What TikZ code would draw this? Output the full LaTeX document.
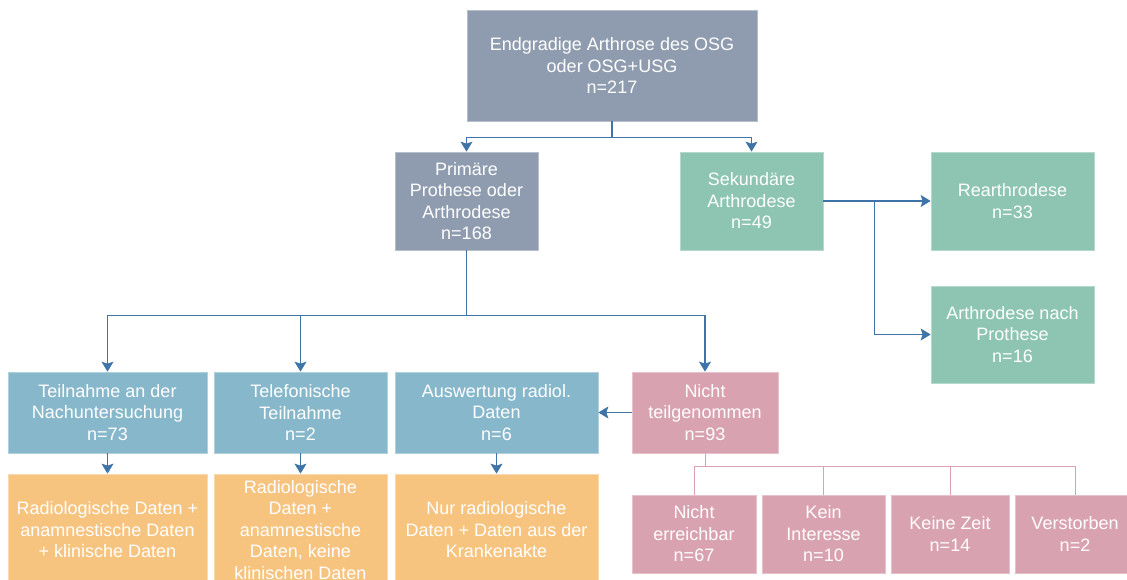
\documentclass[tikz,border=0pt]{standalone}
\usepackage{fontspec}
\setmainfont{Liberation Sans}
\usepackage{xcolor}
\usetikzlibrary{arrows.meta,calc}

\definecolor{greyblue}{HTML}{8F9CAF}
\definecolor{sage}{HTML}{8DC4B2}
\definecolor{skyblue}{HTML}{87B7CB}
\definecolor{rose}{HTML}{D9A2B0}
\definecolor{apricot}{HTML}{F7C480}
\definecolor{linkblue}{HTML}{3F74A8}

\begin{document}
\begin{tikzpicture}[x=1pt, y=-1pt,
  box/.style={rectangle, inner sep=0pt, align=center, text=white, draw=white!35!#1, line width=0.7pt, fill=#1,
    font=\fontsize{18}{21.5}\selectfont},
  link/.style={line width=1.2pt, draw=linkblue},
  pinklink/.style={line width=1pt, draw=rose}]
\clip (0,0) rectangle (1127,580);

\node(top)[box=greyblue, minimum width=290pt, minimum height=111pt] at (612,65.5) {Endgradige Arthrose des OSG\\oder OSG+USG\\n=217};

\node(prim)[box=greyblue, minimum width=143pt, minimum height=98pt] at (466.5,201) {Primäre\\Prothese oder\\Arthrodese\\n=168};
\node(sek)[box=sage, minimum width=143pt, minimum height=98pt] at (751.5,201) {Sekundäre\\Arthrodese\\n=49};
\node(rear)[box=sage, minimum width=163pt, minimum height=98pt] at (1012.5,201) {Rearthrodese\\n=33};
\node(anp)[box=sage, minimum width=163pt, minimum height=97pt] at (1012.5,334.5) {Arthrodese nach\\Prothese\\n=16};

\node(teil)[box=skyblue, minimum width=199pt, minimum height=81pt] at (107.5,412.5) {Teilnahme an der\\Nachuntersuchung\\n=73};
\node(tel)[box=skyblue, minimum width=173pt, minimum height=81pt] at (300.5,412.5) {Telefonische\\Teilnahme\\n=2};
\node(ausw)[box=skyblue, minimum width=203pt, minimum height=81pt] at (496.5,412.5) {Auswertung radiol.\\Daten\\n=6};
\node(nicht)[box=rose, minimum width=146pt, minimum height=81pt] at (705,412.5) {Nicht\\teilgenommen\\n=93};

\node(dat1)[box=apricot, minimum width=199pt, minimum height=112pt] at (107.5,530) {Radiologische Daten +\\anamnestische Daten\\+ klinische Daten};
\node(dat2)[box=apricot, minimum width=173pt, minimum height=112pt] at (300.5,530) {Radiologische\\Daten +\\anamnestische\\Daten, keine\\klinischen Daten};
\node(dat3)[box=apricot, minimum width=203pt, minimum height=112pt] at (496.5,530) {Nur radiologische\\Daten + Daten aus der\\Krankenakte};

\node(ne)[box=rose, minimum width=124pt, minimum height=78pt] at (694,534) {Nicht\\erreichbar\\n=67};
\node(ki)[box=rose, minimum width=123pt, minimum height=78pt] at (823.5,534) {Kein\\Interesse\\n=10};
\node(kz)[box=rose, minimum width=118pt, minimum height=78pt] at (950,534) {Keine Zeit\\n=14};
\node(vs)[box=rose, minimum width=120pt, minimum height=78pt] at (1075,534) {Verstorben\\n=2};

\begin{scope}[>={Stealth[length=10pt, width=12pt, inset=2pt]}]
\draw[link] (top.south) -- ++(0,16) coordinate (t1);
\draw[link, ->] (t1) -| (prim.north);
\draw[link, ->] (t1) -| (sek.north);

\draw[link] (prim.south) -- ++(0,65) coordinate (p1);
\draw[link, ->] (p1) -| (teil.north);
\draw[link, ->] (p1) -| (tel.north);
\draw[link, ->] (p1) -| (nicht.north);
\draw[link, ->] (nicht.west) -- (ausw.east);

\draw[link, ->] (teil.south) -- (dat1.north);
\draw[link, ->] (tel.south) -- (dat2.north);
\draw[link, ->] (ausw.south) -- (dat3.north);

\draw[link, ->] (sek.east) -- (rear.west);
\draw[link, ->] ($(sek.east)+(51,0)$) |- (anp.west);
\end{scope}

\draw[pinklink] (nicht.south) -- ++(0,13) coordinate (n1);
\draw[pinklink] (n1) -| (ne.north);
\draw[pinklink] (n1) -| (ki.north);
\draw[pinklink] (n1) -| (kz.north);
\draw[pinklink] (n1) -| (vs.north);
\end{tikzpicture}
\end{document}
